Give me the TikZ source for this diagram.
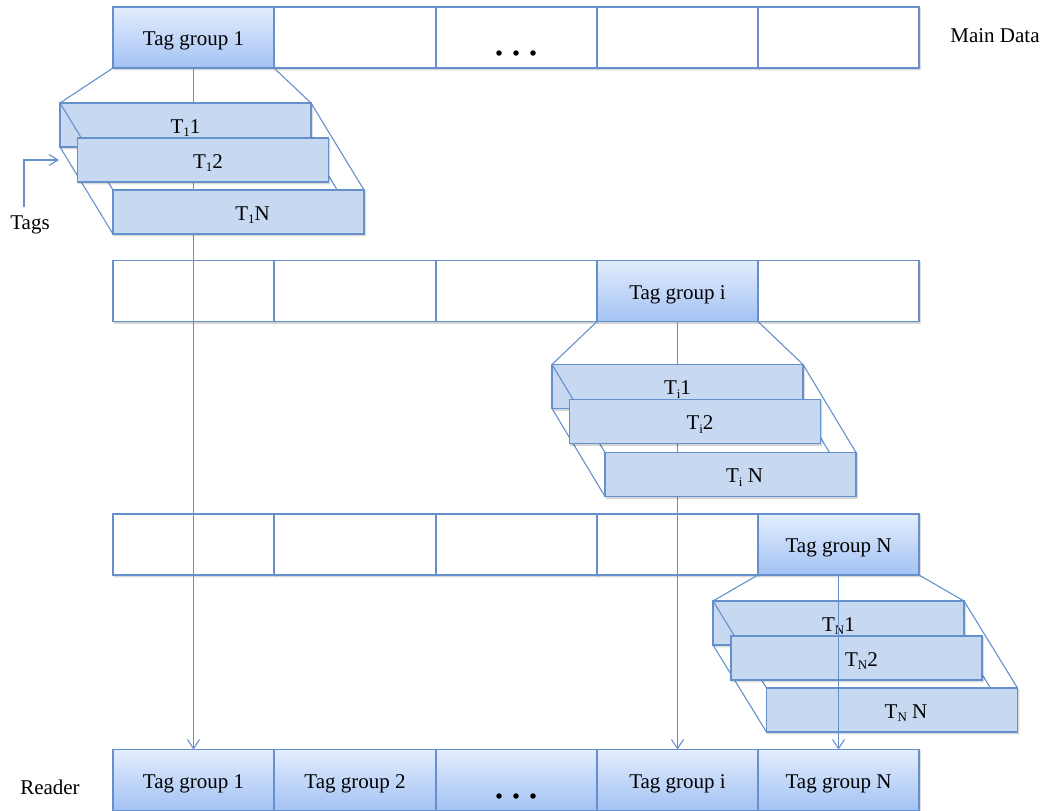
\documentclass[tikz,border=0pt]{standalone}
\usepackage{fontspec}
\setmainfont{Liberation Serif}
\usetikzlibrary{arrows.meta,shadows.blur,calc}
\definecolor{lineblue}{HTML}{6690CC}
\definecolor{tagfill}{HTML}{C6D9F1}
\definecolor{gradtop}{HTML}{E3EDFD}
\definecolor{gradbot}{HTML}{A3C2F4}
% lowered, smaller index after the letter T
\newcommand\lowsub[1]{\raisebox{-3.5pt}{\fontsize{13}{13}\selectfont #1}}
\begin{document}
\begin{tikzpicture}[x=1pt,y=-1pt,
  every node/.style={font=\fontsize{21}{25}\selectfont, inner sep=0pt, outer sep=0pt},
  softshadow/.style={blur shadow={shadow xshift=1pt, shadow yshift=-1.5pt, shadow opacity=25, shadow blur radius=1.5pt, shadow blur steps=5}},
  cell/.style={draw=lineblue, line width=1.3pt, fill=white, minimum width=161pt, minimum height=61pt,
    text height=16.5pt, text depth=0pt, softshadow},
  hot/.style={cell, top color=gradtop, bottom color=gradbot},
  tagbox/.style={draw=lineblue, line width=1.1pt, fill=tagfill, minimum width=251pt, minimum height=44pt, softshadow},
  lbl/.style={font=\fontsize{21}{25}\selectfont, text height=16.5pt, text depth=0pt},
  link/.style={draw=lineblue, line width=1.1pt},
  arr/.style={link, -{Straight Barb[length=9pt,width=12pt,line width=1.1pt]}},
  dotmark/.style={circle, fill=black, minimum size=5.5pt}
]
\useasboundingbox (0,0) rectangle (1055,811);

% ---- main data row ----
\node[hot]  (m1) at (193.5,37.5) {Tag group 1};
\node[cell] (m2) at (355,37.5) {};
\node[cell] (m3) at (516.5,37.5) {};
\node[cell] (m4) at (677.5,37.5) {};
\node[cell] (m5) at (838.5,37.5) {};
\node[dotmark] (md1) at (499,53) {};
\node[dotmark] (md2) at (516,53) {};
\node[dotmark] (md3) at (533,53) {};
\node (maindata) at (995,36) {Main Data};

% ---- second row ----
\node[cell] (s1) at (193.5,291) {};
\node[cell] (s2) at (355,291) {};
\node[cell] (s3) at (516.5,291) {};
\node[hot]  (s4) at (677.5,291) {Tag group i};
\node[cell] (s5) at (838.5,291) {};

% ---- third row ----
\node[cell] (t1) at (193.5,544.5) {};
\node[cell] (t2) at (355,544.5) {};
\node[cell] (t3) at (516.5,544.5) {};
\node[cell] (t4) at (677.5,544.5) {};
\node[hot]  (t5) at (838.5,544.5) {Tag group N};

% ---- reader row ----
\node[hot] (r1) at (193.5,780) {Tag group 1};
\node[hot] (r2) at (355,780) {Tag group 2};
\node[hot] (r3) at (516.5,780) {};
\node[hot] (r4) at (677.5,780) {Tag group i};
\node[hot] (r5) at (838.5,780) {Tag group N};
\node[dotmark] (rd1) at (499,796) {};
\node[dotmark] (rd2) at (516,796) {};
\node[dotmark] (rd3) at (533,796) {};
\node (reader) at (50,787) {Reader};

% ---- reader links for groups 1 and i (hidden behind their tag stacks) ----
\draw[arr] (m1.south) -- (r1.north);
\draw[arr] (s4.south) -- (r4.north);

% ---- tag stack of group 1 ----
\node[tagbox, label={[lbl]center:T\lowsub{1}1}] (a1) at (185.5,125) {};
\draw[link] (m1.south west) -- (a1.north west);
\draw[link] (m1.south east) -- (a1.north east);
\coordinate (a1back) at ($(a1.center)+(53,87)$);
\draw[link] (a1.north west) -- ++(53,87);
\draw[link] (a1.north east) -- ++(53,87);
\draw[link] (a1.south west) -- ++(53,87);
\draw[link] (a1.south east) -- ++(53,87);
\node[tagbox, label={[lbl,xshift=5pt]center:T\lowsub{1}2}] (a2) at (203,160) {};
\node[tagbox, label={[lbl,xshift=14pt]center:T\lowsub{1}N}] (aN) at (a1back) {};

% ---- tag stack of group i ----
\node[tagbox, label={[lbl]center:T\lowsub{i}1}] (b1) at (677.5,386.5) {};
\draw[link] (s4.south west) -- (b1.north west);
\draw[link] (s4.south east) -- (b1.north east);
\coordinate (b1back) at ($(b1.center)+(53,88)$);
\draw[link] (b1.north west) -- ++(53,88);
\draw[link] (b1.north east) -- ++(53,88);
\draw[link] (b1.south west) -- ++(53,88);
\draw[link] (b1.south east) -- ++(53,88);
\node[tagbox, label={[lbl,xshift=5pt]center:T\lowsub{i}2}] (b2) at (695,421.5) {};
\node[tagbox, label={[lbl,xshift=14pt]center:T\lowsub{i} N}] (bN) at (b1back) {};

% ---- tag stack of group N ----
\node[tagbox, label={[lbl]center:T\lowsub{N}1}] (c1) at (838.5,623) {};
\draw[link] (t5.south west) -- (c1.north west);
\draw[link] (t5.south east) -- (c1.north east);
\coordinate (c1back) at ($(c1.center)+(53.5,87)$);
\draw[link] (c1.north west) -- ++(53.5,87);
\draw[link] (c1.north east) -- ++(53.5,87);
\draw[link] (c1.south west) -- ++(53.5,87);
\draw[link] (c1.south east) -- ++(53.5,87);
\node[tagbox, label={[lbl,xshift=5pt]center:T\lowsub{N}2}] (c2) at (856.5,658) {};
\node[tagbox, label={[lbl,xshift=14pt]center:T\lowsub{N} N}] (cN) at (c1back) {};

% link of group N runs over its stack
\draw[arr] (t5.south) -- (r5.north);

% ---- tags pointer ----
\node (tags) at (30,225) {Tags};
\coordinate (tagfoot) at (24,207);
\coordinate (tagtip) at (59,160);
\draw[link, -{Straight Barb[length=9pt,width=11pt,line width=1.1pt]}] (tagfoot) |- (tagtip);
\end{tikzpicture}
\end{document}
